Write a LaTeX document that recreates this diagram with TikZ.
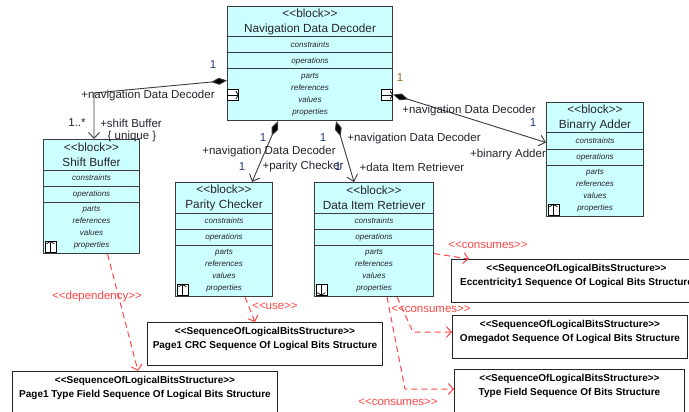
\documentclass[tikz,border=0pt]{standalone}
\usepackage{fontspec}
\setmainfont{Liberation Sans}[Ligatures=TeXOff]
\usetikzlibrary{arrows.meta}
\definecolor{blockfill}{HTML}{CCFFFF}
\definecolor{blockline}{HTML}{3C3C3C}
\definecolor{depred}{HTML}{FF4545}
\definecolor{labeltext}{HTML}{26222E}
\definecolor{multblue}{HTML}{1F3A8A}
\definecolor{multbrown}{HTML}{9A6A1A}

\begin{document}
\begin{tikzpicture}
  [x=1pt, y=-1pt,
  block/.style={draw=blockline, fill=blockfill, line width=1.1pt, anchor=north west,
    minimum height=114pt, inner sep=0pt},
  blocksep/.style={draw=blockline, line width=1pt},
  blocktitle/.style={align=center, inner sep=0pt, text=labeltext,
    font=\fontsize{11.8}{15.5}\selectfont},
  compart/.style={inner sep=0pt, text=labeltext, font=\fontsize{8}{12}\selectfont\itshape},
  icon/.style={draw=black, fill=white, line width=0.7pt, minimum size=11pt, inner sep=0pt},
  iconarrow/.style={line width=0.7pt, -{Straight Barb[length=2.5pt,width=8pt]}},
  outbox/.style={draw=black!85, fill=white, line width=1pt, anchor=north west,
    minimum height=43pt, inner sep=0pt},
  outtext/.style={align=center, inner sep=0pt, font=\fontsize{10}{14.5}\selectfont\bfseries},
  comp/.style={draw=blockline, line width=0.9pt,
    {Diamond[length=16pt,width=7pt,fill=black]}-{Straight Barb[length=6pt,width=11pt]}},
  dep/.style={draw=depred, line width=1pt, dash pattern=on 6pt off 4pt,
    -{Straight Barb[length=5pt,width=11pt]}},
  lbl/.style={inner sep=0pt, text=labeltext, font=\fontsize{11.5}{13}\selectfont},
  mult/.style={lbl, text=multblue},
  deplbl/.style={lbl, text=depred}]

  \useasboundingbox (0,0) rectangle (689,412);
  \clip (0,0) rectangle (689,412);

  % blocks
  \foreach \n/\x/\y/\w/\t in {ndd/227/6/165/Navigation Data Decoder,
      sb/43/139/96/Shift Buffer, pc/175/182/97/Parity Checker,
      dir/314/182/119/Data Item Retriever, ba/546/102/97/Binarry Adder} {
    \node[block, minimum width=\w pt] (\n) at (\x,\y) {};
    \node[blocktitle] (\n-title) at ([yshift=-16pt]\n.north) {<<block>>\\\t};
    \node[compart] (\n-cons) at ([yshift=-39pt]\n.north) {constraints};
    \node[compart] (\n-ops) at ([yshift=-55pt]\n.north) {operations};
    \node[compart, align=center] (\n-body) at ([yshift=-89pt]\n.north)
      {parts\\references\\values\\properties};
    \foreach \d in {31,47,63}
      \draw[blocksep] ([yshift=-\d pt]\n.north west) -- ([yshift=-\d pt]\n.north east);
  }

  % compartment icons
  \foreach \n in {sb,pc,ba} {
    \node[icon, anchor=south west] (\n-icon) at ([shift={(1.5pt,1.5pt)}]\n.south west) {};
    \draw[iconarrow] (\n-icon.south) -- (\n-icon.north);
  }
  \node[icon, anchor=south west] (dir-icon) at ([shift={(1.5pt,1.5pt)}]dir.south west) {};
  \draw[iconarrow] (dir-icon.north) -- (dir-icon.south);
  \node[icon, anchor=west] (ndd-inport) at ([yshift=-89pt]ndd.north west) {};
  \node[icon, anchor=east] (ndd-outport) at ([yshift=-89pt]ndd.north east) {};
  \foreach \n in {ndd-inport,ndd-outport}
    \draw[iconarrow] (\n.west) -- (\n.east);

  % sequence structures
  \foreach \n/\x/\y/\w/\t in {
      ecc/451/259/250/Eccentricity1 Sequence Of Logical Bits Structure,
      omg/452/315/235/Omegadot Sequence Of Logical Bits Structure,
      tf/454/369/230/Type Field Sequence Of Bits Structure,
      crc/147/322/235/Page1 CRC Sequence Of Logical Bits Structure,
      ptf/12/371/265/Page1 Type Field Sequence Of Logical Bits Structure} {
    \node[outbox, minimum width=\w pt] (\n) at (\x,\y) {};
    \node[outtext] (\n-text) at ([yshift=-17pt]\n.north)
      {<<SequenceOfLogicalBitsStructure>>\\\t};
  }

  % compositions
  \coordinate (sbbend) at (94,93);
  \draw[comp] ([yshift=-17pt]ndd.west) -- (sbbend) -- (sbbend |- sb.north);
  \draw[comp] ([xshift=-32pt]ndd.south) -- ([xshift=28pt]pc.north);
  \draw[comp] ([xshift=26pt]ndd.south) -- ([xshift=-20pt]dir.north);
  \draw[comp] ([yshift=-31pt]ndd.east) -- ([yshift=17pt]ba.west);

  \node[mult] (m-sb-a) at (213,65) {1};
  \node[lbl] (r-sb-a) at (148,96) {+navigation Data Decoder};
  \node[lbl] (m-sb-b) at (77,123) {1..*};
  \node[lbl] (r-sb-b) at (131,123) {+shift Buffer};
  \node[lbl] (c-sb-b) at (132,137) {\{ unique \}};

  \node[mult] (m-pc-a) at (263,138) {1};
  \node[lbl] (r-pc-a) at (269,152) {+navigation Data Decoder};
  \node[mult] (m-pc-b) at (242,167) {1};
  \node[lbl] (r-pc-b) at (303,167) {+parity Checker};

  \node[mult] (m-dir-a) at (323,138) {1};
  \node[lbl] (r-dir-a) at (414,139) {+navigation Data Decoder};
  \node[mult] (m-dir-b) at (338,167) {1};
  \node[lbl] (r-dir-b) at (412,167) {+data Item Retriever};

  \node[mult, text=multbrown] (m-ba-a) at (400,78) {1};
  \node[lbl] (r-ba-a) at (469,111) {+navigation Data Decoder};
  \node[mult] (m-ba-b) at (533,123) {1};
  \node[lbl] (r-ba-b) at (508,155) {+binarry Adder};

  % dependencies
  \coordinate (omgbend) at (413,332);
  \coordinate (tfbend) at (405,389);
  \draw[dep] ([xshift=16pt]sb.south) -- ([xshift=-7pt]ptf.north);
  \draw[dep] ([xshift=21pt]pc.south) -- ([xshift=-10pt]crc.north);
  \draw[dep] ([yshift=-14pt]dir.east) -- ([xshift=18pt]ecc.north west);
  \draw[dep] ([xshift=23pt]dir.south) -- (omgbend) -- (omgbend -| omg.west);
  \draw[dep] ([xshift=13pt]dir.south) -- (tfbend) -- (tfbend -| tf.west);

  \node[deplbl] (d-sb) at (97,297) {<<dependency>>};
  \node[deplbl] (d-pc) at (275,306) {<<use>>};
  \node[deplbl] (d-ecc) at (488,245) {<<consumes>>};
  \node[deplbl] (d-omg) at (431,309) {<<consumes>>};
  \node[deplbl] (d-tf) at (398,402) {<<consumes>>};
\end{tikzpicture}
\end{document}
